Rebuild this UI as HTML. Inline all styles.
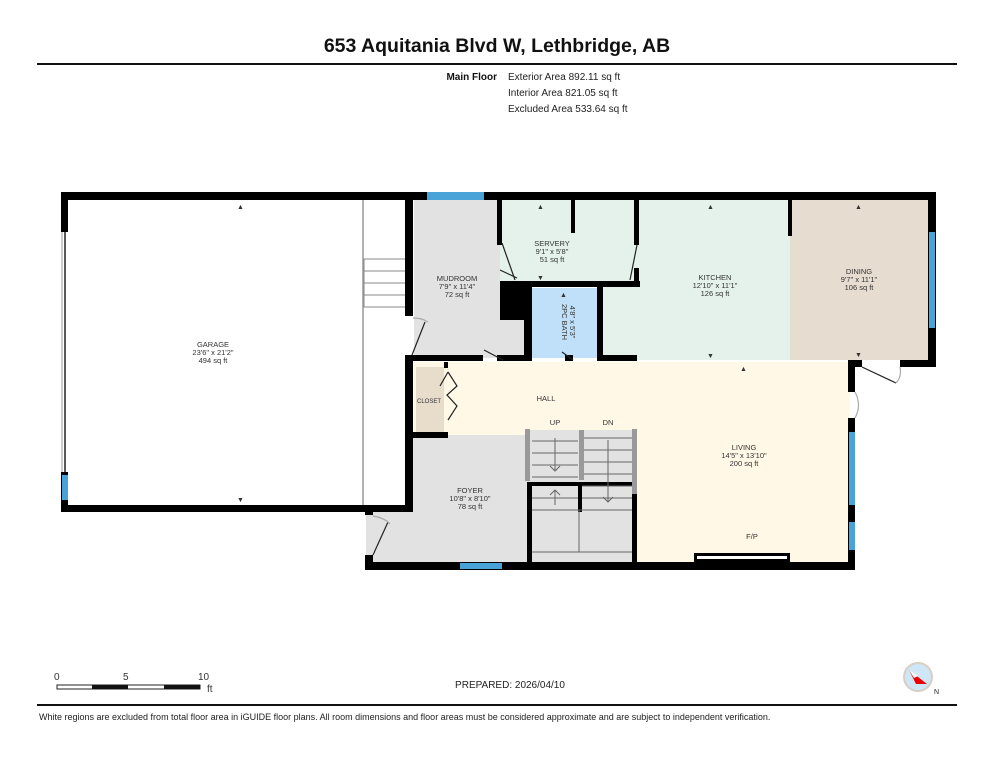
<!DOCTYPE html>
<html><head><meta charset="utf-8"><style>
html,body{margin:0;padding:0;background:#fff}
svg{display:block}
text{font-family:"Liberation Sans",Arial,sans-serif;fill:#333}
</style></head><body>
<svg width="993" height="768" viewBox="0 0 993 768" xmlns="http://www.w3.org/2000/svg">
<text x="497" y="52" text-anchor="middle" font-size="19.5" font-weight="bold" style="fill:#111">653 Aquitania Blvd W, Lethbridge, AB</text>
<rect x="37" y="63" width="920" height="2" fill="#111"/>
<text x="497" y="80" text-anchor="end" font-size="10" font-weight="bold" style="fill:#111">Main Floor</text>
<text x="508" y="80" font-size="10" style="fill:#222">Exterior Area 892.11 sq ft</text>
<text x="508" y="96" font-size="10" style="fill:#222">Interior Area 821.05 sq ft</text>
<text x="508" y="112" font-size="10" style="fill:#222">Excluded Area 533.64 sq ft</text>

<rect x="414" y="200" width="86" height="158" fill="#e2e2e2"/>
<rect x="414" y="318" width="112" height="40" fill="#e2e2e2"/>
<rect x="500" y="200" width="137" height="85" fill="#e5f2ec"/>
<rect x="600" y="200" width="190" height="160" fill="#e5f2ec"/>
<rect x="530" y="288" width="67" height="70" fill="#bfe0f8"/>
<rect x="790" y="200" width="140" height="160" fill="#e6dccf"/>
<rect x="414" y="362" width="436" height="73" fill="#fff8e6"/>
<rect x="637" y="362" width="213" height="202" fill="#fff8e6"/>
<rect x="416" y="367" width="28" height="68" fill="#e8dccb"/>
<rect x="412" y="435" width="118" height="130" fill="#e2e2e2"/>
<rect x="527" y="430" width="110" height="132" fill="#e2e2e2"/>
<rect x="366" y="512" width="48" height="52" fill="#e2e2e2"/>

<line x1="363" y1="200" x2="363" y2="505" stroke="#999" stroke-width="1.5"/>
<g stroke="#888" stroke-width="1">
<rect x="364" y="259" width="44" height="12" fill="none"/>
<rect x="364" y="271" width="44" height="12" fill="none"/>
<rect x="364" y="283" width="44" height="12" fill="none"/>
<rect x="364" y="295" width="44" height="12" fill="none"/>
</g>
<line x1="65" y1="232" x2="65" y2="472" stroke="#222" stroke-width="1.5"/>
<rect x="61" y="232" width="2" height="240" fill="#ccc"/>

<g fill="#000">
<rect x="61" y="192" width="875" height="8"/>
<rect x="61" y="192" width="7" height="40"/>
<rect x="61" y="472" width="7" height="40"/>
<rect x="61" y="505" width="351" height="7"/>
<rect x="405" y="200" width="8" height="116"/>
<rect x="405" y="355" width="8" height="157"/>
<rect x="365" y="505" width="8" height="10"/>
<rect x="365" y="555" width="8" height="15"/>
<rect x="365" y="562" width="490" height="8"/>
<rect x="848" y="360" width="7" height="32"/>
<rect x="848" y="418" width="7" height="152"/>
<rect x="848" y="360" width="14" height="7"/>
<rect x="900" y="360" width="36" height="7"/>
<rect x="928" y="192" width="8" height="175"/>
<rect x="413" y="355" width="70" height="6"/>
<rect x="497" y="355" width="30" height="6"/>
<rect x="565" y="355" width="8" height="6"/>
<rect x="597" y="355" width="40" height="6"/>
<rect x="497" y="200" width="5" height="45"/>
<rect x="500" y="283" width="30" height="37"/>
<rect x="524" y="283" width="8" height="78"/>
<rect x="500" y="281" width="140" height="6"/>
<rect x="571" y="200" width="4" height="33"/>
<rect x="634" y="200" width="5" height="45"/>
<rect x="634" y="268" width="5" height="18"/>
<rect x="597" y="285" width="6" height="76"/>
<rect x="788" y="200" width="4" height="36"/>
<rect x="413" y="432" width="35" height="6"/>
<rect x="444" y="362" width="4" height="6"/>
<rect x="527" y="482" width="110" height="4"/>
<rect x="527" y="482" width="5" height="82"/>
<rect x="578" y="482" width="4" height="30"/>
<rect x="632" y="494" width="5" height="70"/>
<rect x="694" y="553" width="96" height="9"/>
</g>
<rect x="697" y="556" width="90" height="3" fill="#fff"/>

<g fill="#4aa3d8">
<rect x="427" y="192" width="57" height="8"/>
<rect x="929" y="232" width="6" height="96"/>
<rect x="849" y="432" width="6" height="73"/>
<rect x="849" y="522" width="6" height="28"/>
<rect x="62" y="475" width="6" height="25"/>
<rect x="460" y="563" width="42" height="6"/>
</g>

<g stroke="#666" stroke-width="1" fill="none">
<line x1="532" y1="441" x2="578" y2="441"/><line x1="532" y1="453" x2="578" y2="453"/>
<line x1="532" y1="465" x2="578" y2="465"/><line x1="532" y1="477" x2="578" y2="477"/>
<line x1="532" y1="498" x2="578" y2="498"/><line x1="532" y1="510" x2="632" y2="510"/>
<line x1="582" y1="438" x2="632" y2="438"/><line x1="582" y1="450" x2="632" y2="450"/>
<line x1="582" y1="462" x2="632" y2="462"/><line x1="582" y1="474" x2="632" y2="474"/>
<line x1="582" y1="486" x2="632" y2="486"/><line x1="582" y1="498" x2="632" y2="498"/>
<line x1="532" y1="552" x2="632" y2="552"/><line x1="579" y1="510" x2="579" y2="552"/>
<path d="M555 438 V471 M550 466 L555 471 L560 466"/>
<path d="M555 505 V490 M550 495 L555 490 L560 495"/>
<path d="M608 440 V502 M603 497 L608 502 L613 497"/>
</g>
<rect x="525" y="429" width="5" height="52" fill="#999"/>
<rect x="579" y="430" width="5" height="50" fill="#999"/>
<rect x="632" y="429" width="5" height="65" fill="#999"/>

<g stroke="#222" stroke-width="1.2" fill="none">
<path d="M412 355 L425 322"/><path d="M413 318 Q422 318 428 322" stroke="#aaa"/>
<path d="M502 243 L515 280"/><path d="M500 270 L517 278"/>
<path d="M637 245 L630 280"/>
<path d="M484 350 L503 360"/><path d="M573 360 L562 352" />
<path d="M373 555 L388 522"/><path d="M373 516 Q385 518 390 524" stroke="#aaa"/>
<path d="M448 372 L457 386 L447 395 L457 406 L448 420 M448 372 L440 386"/>
<path d="M862 367 L896 383"/><path d="M900 367 Q902 377 896 383" stroke="#aaa"/>
<path d="M855 392 Q862 405 855 418" stroke="#aaa"/>
</g>

<g font-size="7.5" text-anchor="middle">
<text x="213" y="347">GARAGE</text><text x="213" y="355">23'6" x 21'2"</text><text x="213" y="363">494 sq ft</text>
<text x="457" y="281">MUDROOM</text><text x="457" y="289">7'9" x 11'4"</text><text x="457" y="297">72 sq ft</text>
<text x="552" y="246">SERVERY</text><text x="552" y="254">9'1" x 5'8"</text><text x="552" y="262">51 sq ft</text>
<text x="715" y="280">KITCHEN</text><text x="715" y="288">12'10" x 11'1"</text><text x="715" y="296">126 sq ft</text>
<text x="859" y="274">DINING</text><text x="859" y="282">9'7" x 11'1"</text><text x="859" y="290">106 sq ft</text>
<text x="744" y="450">LIVING</text><text x="744" y="458">14'5" x 13'10"</text><text x="744" y="466">200 sq ft</text>
<text x="470" y="493">FOYER</text><text x="470" y="501">10'8" x 8'10"</text><text x="470" y="509">78 sq ft</text>
<text x="546" y="401">HALL</text>
<text x="555" y="425">UP</text><text x="608" y="425">DN</text>
<text x="752" y="539">F/P</text>
<text x="429" y="403" font-size="6">CLOSET</text>
<text transform="translate(562 322) rotate(90)" font-size="7.5">2PC BATH</text>
<text transform="translate(570 322) rotate(90)" font-size="7.5">4'8" x 5'3"</text>
</g>
<g fill="#111" font-size="7">
<text x="237" y="209">▲</text><text x="237" y="502">▼</text>
<text x="537" y="209">▲</text><text x="537" y="280">▼</text>
<text x="707" y="209">▲</text><text x="707" y="358">▼</text>
<text x="855" y="209">▲</text><text x="855" y="357">▼</text>
<text x="740" y="371">▲</text>
<text x="560" y="297">▲</text>
</g>

<g font-size="10" style="fill:#222">
<text x="54" y="680">0</text><text x="123" y="680">5</text><text x="198" y="680">10</text><text x="207" y="692">ft</text>
</g>
<rect x="57" y="685" width="143" height="4" fill="#fff" stroke="#222" stroke-width="1"/>
<rect x="92" y="685" width="36" height="4" fill="#111"/>
<rect x="164" y="685" width="36" height="4" fill="#111"/>
<text x="510" y="688" text-anchor="middle" font-size="10" style="fill:#222">PREPARED: 2026/04/10</text>
<circle cx="918" cy="677" r="14" fill="#cfe6f6" stroke="#d8cfc4" stroke-width="2"/>
<polygon points="909,670 927,684 916,684" fill="#e00"/>
<polygon points="909,670 918,676 914,678" fill="#fff"/>
<text x="934" y="694" font-size="7" style="fill:#222">N</text>
<rect x="37" y="704" width="920" height="2" fill="#111"/>
<text x="39" y="720" font-size="9" style="fill:#222">White regions are excluded from total floor area in iGUIDE floor plans. All room dimensions and floor areas must be considered approximate and are subject to independent verification.</text>
</svg>
</body></html>
